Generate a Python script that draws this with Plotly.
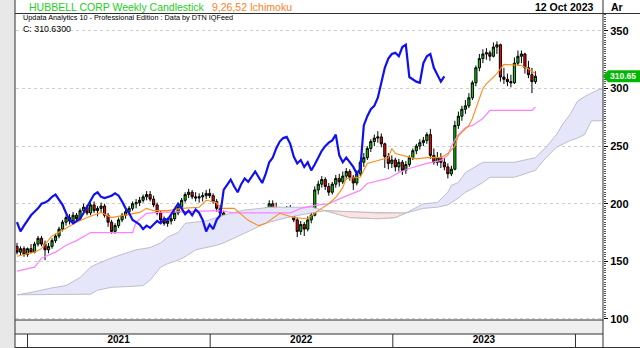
import plotly.graph_objects as go
import pandas as pd

FIRST_WEEK = "2020-12-11"
LAG = 26

opens = [163,158,161,156,161,158,165,170,165,160,163,168,172,178,184,188,185,190,187,194,
         197,192,199,194,196,198,190,184,176,181,186,190,193,196,200,201,203,206,208,204,
         199,192,186,183,185,187,192,197,203,208,210,206,205,206,207,209,207,202,196,192,
         186,184,182,178,181,179,182,185,183,187,186,191,195,200,196,191,194,190,195,192,
         186,176,182,178,186,190,212,217,221,215,210,217,222,219,224,228,223,218,226,236,
         240,248,254,257,258,252,241,235,238,232,236,229,234,240,246,250,253,255,260,242,
         236,240,236,232,226,230,268,276,282,285,292,305,318,326,330,331,328,336,338,310,
         308,306,305,322,328,330,318,312,306]
highs = [166,163,163,162,165,167,172,172,168,166,170,174,180,186,190,191,193,192,196,200,
         199,201,202,198,201,200,192,186,183,188,192,195,198,202,204,206,208,211,211,207,
         201,194,189,188,190,194,199,205,210,213,212,210,209,210,212,213,209,204,199,194,
         190,188,186,184,185,184,188,189,190,192,193,197,203,203,201,197,196,198,199,194,
         188,185,184,189,193,215,220,224,223,218,219,225,226,228,231,230,225,229,238,244,
         250,256,260,263,261,253,244,242,240,239,238,237,242,248,252,256,258,262,265,248,
         245,244,240,235,233,272,280,285,290,296,307,320,330,334,335,333,340,341,339,318,
         313,312,327,333,333,331,324,318,315]
lows = [156,155,154,154,157,157,163,163,151,157,161,166,170,176,181,182,183,184,185,191,
        190,190,192,189,192,188,180,174,174,179,184,187,190,194,196,198,201,203,202,197,
        190,184,181,180,182,185,190,195,201,205,204,202,201,202,204,205,200,193,188,183,
        180,178,173,175,176,177,180,181,182,184,185,189,193,194,190,189,187,188,190,184,
        171,173,172,176,183,189,208,214,212,207,208,214,215,217,221,220,212,216,224,232,
        238,245,250,253,249,231,230,231,228,228,225,226,232,238,243,247,250,252,239,234,
        233,231,229,222,224,229,265,272,278,283,290,302,315,322,325,324,327,330,306,304,
        302,301,304,320,322,313,309,296,304]
closes = [158,161,156,161,158,165,170,165,160,163,168,172,178,184,188,185,190,187,194,197,
          192,199,194,196,198,190,184,176,181,186,190,193,196,200,201,203,206,208,204,199,
          192,186,183,185,187,192,197,203,208,210,206,205,206,207,209,207,202,196,192,186,
          184,182,178,181,179,182,185,183,187,186,191,195,200,196,191,194,190,195,192,186,
          176,182,178,186,190,212,217,221,215,210,217,222,219,224,228,223,218,226,236,240,
          248,254,257,258,252,241,235,238,232,236,229,234,240,246,250,253,255,260,242,236,
          240,236,232,226,230,268,276,282,285,292,305,318,326,330,331,328,336,338,310,308,
          306,305,322,328,330,318,312,306,310.63]
last_price_tag = "310.65"

tenkan_weeks = [0,5,7,10,13,17,20,24,27,31,35,37,39,43,47,52,54,57,58,62,66,69,71,75,79,83,86,89,
                91,93,94,98,100,103,106,107,108,114,117,121,123,125,126,127,129,130,131,133,134,
                137,139,144,146,148]
tenkan_vals = [154.5,158,161,172,177,184,188,192.5,188,190,192.5,196,194,194,196,197,203,201,196,
               196,185.6,181,183,191.7,188,187,194,200,205.5,214,222,223,235,237.5,240,248,243.6,
               239,240,240,243.6,250,259,262,268,274,283,300,304,313,321,320,317,313]

kijun_weeks = [0,5,7,11,14,17,21,33,34,37,40,58,62,78,81,85,89,93,98,100,106,109,112,117,121,
               123,124,126,128,130,133,135,147,148]
kijun_vals = [141.5,145,152.8,158,164,168,175,175,184,191.7,192.5,194,192,192,196,198.6,200,205.5,
              211.6,217.6,222,227,230.6,235,237.5,242,250,260,266,268,274,281,281,284]

cloud_weeks = [0,4,10,14,18,21,23,27,31,34,36,38,41,43,46,48,51,54,57,59,64,65,71,72,77,84,88,
               95,103,108,111,116,120,123,124,126,128,130,133,135,137,142,148,151,154,156,158,
               160,162,164,166,169]
span_a = [121,123,127,129,136,145,148,153,157,160,161,162,166,171,175,183,184,185,188,190,194,
          194.5,196.5,197,197,197,194,188,187,188,192,200,201,210,216,218.5,227,230.6,236,236,
          236,236,240,249,260,270,278,289,293,296,299,300.7]
span_b = [121,121,121,121,121,121.5,125,127.5,128,128.5,129,133.7,145,148,151,154,160,162,164,
          166,173,175,183,184,188,192,194,193,192,192,192,196,197,199,201,205,210,213,218.5,223,
          223,223,229,240,249,252,255,257,260,272,272,272]
bearish_from, bearish_to = 88, 111

year_ticks = ["2021", "2022", "2023"]
y_ticks = [100, 150, 200, 250, 300, 350]

X_RANGE = [pd.Timestamp("2020-12-09"), pd.Timestamp("2024-02-25")]
Y_RANGE = [99.1, 364.7]
W, H = 640, 348
ML, MR, MT, MB = 16, 37, 14, 28
PW, PH = W - ML - MR, H - MT - MB
FONT = "Liberation Sans, Arial, sans-serif"


def week_dates(idx):
    base = pd.Timestamp(FIRST_WEEK)
    return [base + pd.Timedelta(weeks=int(k)) for k in idx]


def px(xp):
    return (xp - ML) / PW


def py(yp):
    return (H - MB - yp) / PH


def date_paper(d):
    return (pd.Timestamp(d) - X_RANGE[0]) / (X_RANGE[1] - X_RANGE[0])


def val_paper(v):
    return (v - Y_RANGE[0]) / (Y_RANGE[1] - Y_RANGE[0])


dates = week_dates(range(len(closes)))
cx = week_dates(cloud_weeks)

fig = go.Figure()

# Ichimoku cloud (lavender where span A above span B, pink where below)
fig.add_trace(go.Scatter(x=cx, y=span_b, mode="lines", line=dict(color="#bdbdcc", width=1),
                         hoverinfo="skip"))
fig.add_trace(go.Scatter(x=cx, y=span_a, mode="lines", line=dict(color="#bdbdcc", width=1),
                         fill="tonexty", fillcolor="#e6e6fa", hoverinfo="skip"))
k0, k1 = cloud_weeks.index(bearish_from), cloud_weeks.index(bearish_to) + 1
fig.add_trace(go.Scatter(x=cx[k0:k1], y=span_b[k0:k1], mode="lines",
                         line=dict(color="#c8bcbc", width=1), hoverinfo="skip"))
fig.add_trace(go.Scatter(x=cx[k0:k1], y=span_a[k0:k1], mode="lines",
                         line=dict(color="#c8bcbc", width=1), fill="tonexty",
                         fillcolor="#fbe3e3", hoverinfo="skip"))

# Kijun and Tenkan
fig.add_trace(go.Scatter(x=week_dates(kijun_weeks), y=kijun_vals, mode="lines",
                         line=dict(color="#ff80ff", width=1.2), hoverinfo="skip"))
fig.add_trace(go.Scatter(x=week_dates(tenkan_weeks), y=tenkan_vals, mode="lines",
                         line=dict(color="#ff8c1a", width=1.1), hoverinfo="skip"))

# Candles
fig.add_trace(go.Candlestick(
    x=dates, open=opens, high=highs, low=lows, close=closes,
    increasing=dict(fillcolor="#00d000", line=dict(color="#000000", width=1)),
    decreasing=dict(fillcolor="#ff0000", line=dict(color="#000000", width=1)),
    whiskerwidth=0, hoverinfo="skip"))

# Chikou span: close shifted back LAG weeks
fig.add_trace(go.Scatter(x=dates[:-LAG], y=closes[LAG:], mode="lines",
                         line=dict(color="#1010f0", width=2.2), hoverinfo="skip"))

year_mid = [pd.Timestamp(f"{y}-07-02") for y in year_ticks]

fig.update_layout(
    width=W, height=H, margin=dict(l=ML, r=MR, t=MT, b=MB, autoexpand=False),
    paper_bgcolor="white", plot_bgcolor="white", showlegend=False, boxgap=0.12,
    font=dict(family=FONT, color="black"),
    xaxis=dict(type="date", range=X_RANGE, showgrid=False, zeroline=False, automargin=False,
               rangeslider=dict(visible=False), tickvals=year_mid, ticktext=year_ticks,
               ticks="", ticklabelstandoff=12,
               tickfont=dict(size=10, family=FONT, weight="bold", color="black")),
    yaxis=dict(range=Y_RANGE, side="right", tickvals=y_ticks, ticks="outside", ticklen=4,
               tickcolor="black", showgrid=True, gridcolor="#cfcfcf", griddash="dot",
               gridwidth=1, zeroline=False, automargin=False,
               tickfont=dict(size=11, family=FONT, weight="bold", color="black"),
               minor=dict(dtick=2, ticks="outside", ticklen=2, tickcolor="#555555",
                          showgrid=False)),
)

shapes = []
line_col = "#303030"
shapes.append(dict(type="rect", xref="paper", yref="paper", x0=px(0), x1=px(15), y0=py(H), y1=py(0),
                   fillcolor="#e8e8e8", line=dict(width=0), layer="above"))
shapes.append(dict(type="rect", xref="paper", yref="paper", x0=px(15), x1=px(603), y0=py(334), y1=py(320),
                   fillcolor="#efefef", line=dict(width=0), layer="above"))
for (x0, y0, x1, y1) in [(15, 0, 15, H), (15, 13.5, W, 13.5), (15, 320, 603, 320),
                         (15, 334, 603, 334), (603, 0, 603, H), (15, H - 0.5, W, H - 0.5)]:
    shapes.append(dict(type="line", xref="paper", yref="paper", x0=px(x0), x1=px(x1),
                       y0=py(y0), y1=py(y1), line=dict(color=line_col, width=1), layer="above"))
for yr in ["2021", "2022", "2023", "2024"]:
    xp_ = date_paper(f"{yr}-01-01")
    shapes.append(dict(type="line", xref="paper", yref="paper", x0=xp_, x1=xp_,
                       y0=py(334), y1=py(H), line=dict(color=line_col, width=1), layer="above"))
c = closes[-1]
cy = val_paper(c)
hh = 6 / PH
shapes.append(dict(type="path", xref="paper", yref="paper",
                   path=f"M {px(603)},{cy} L {px(608)},{cy + hh} L {px(640)},{cy + hh} "
                        f"L {px(640)},{cy - hh} L {px(608)},{cy - hh} Z",
                   fillcolor="#00b800", line=dict(color="#00b800", width=0), layer="above"))
fig.update_layout(shapes=shapes)

ann = [
    dict(text="HUBBELL CORP Weekly Candlestick", x=px(27), y=py(7), color="#22cc22", size=10.5, anchor="left", weight="normal"),
    dict(text="9,26,52 Ichimoku", x=px(210), y=py(7), color="#ff7f27", size=10.5, anchor="left", weight="normal"),
    dict(text="12 Oct 2023", x=px(596), y=py(7), color="black", size=10.5, anchor="right", weight="bold"),
    dict(text="Ar", x=px(609), y=py(7), color="black", size=10.5, anchor="left", weight="bold"),
    dict(text="Updata Analytics 10 - Professional Edition : Data by DTN IQFeed", x=px(21), y=py(18),
         color="black", size=7.3, anchor="left", weight="normal"),
    dict(text="C: 310.6300", x=px(21), y=py(28.5), color="black", size=8.8, anchor="left", weight="normal"),
    dict(text=last_price_tag, x=px(623), y=cy, color="white", size=8.5, anchor="center", weight="bold"),
]
for a in ann:
    fig.add_annotation(text=a["text"], xref="paper", yref="paper", x=a["x"], y=a["y"],
                       xanchor=a["anchor"], yanchor="middle", showarrow=False,
                       font=dict(family=FONT, size=a["size"], color=a["color"], weight=a["weight"]))

fig.write_html("out.html")
